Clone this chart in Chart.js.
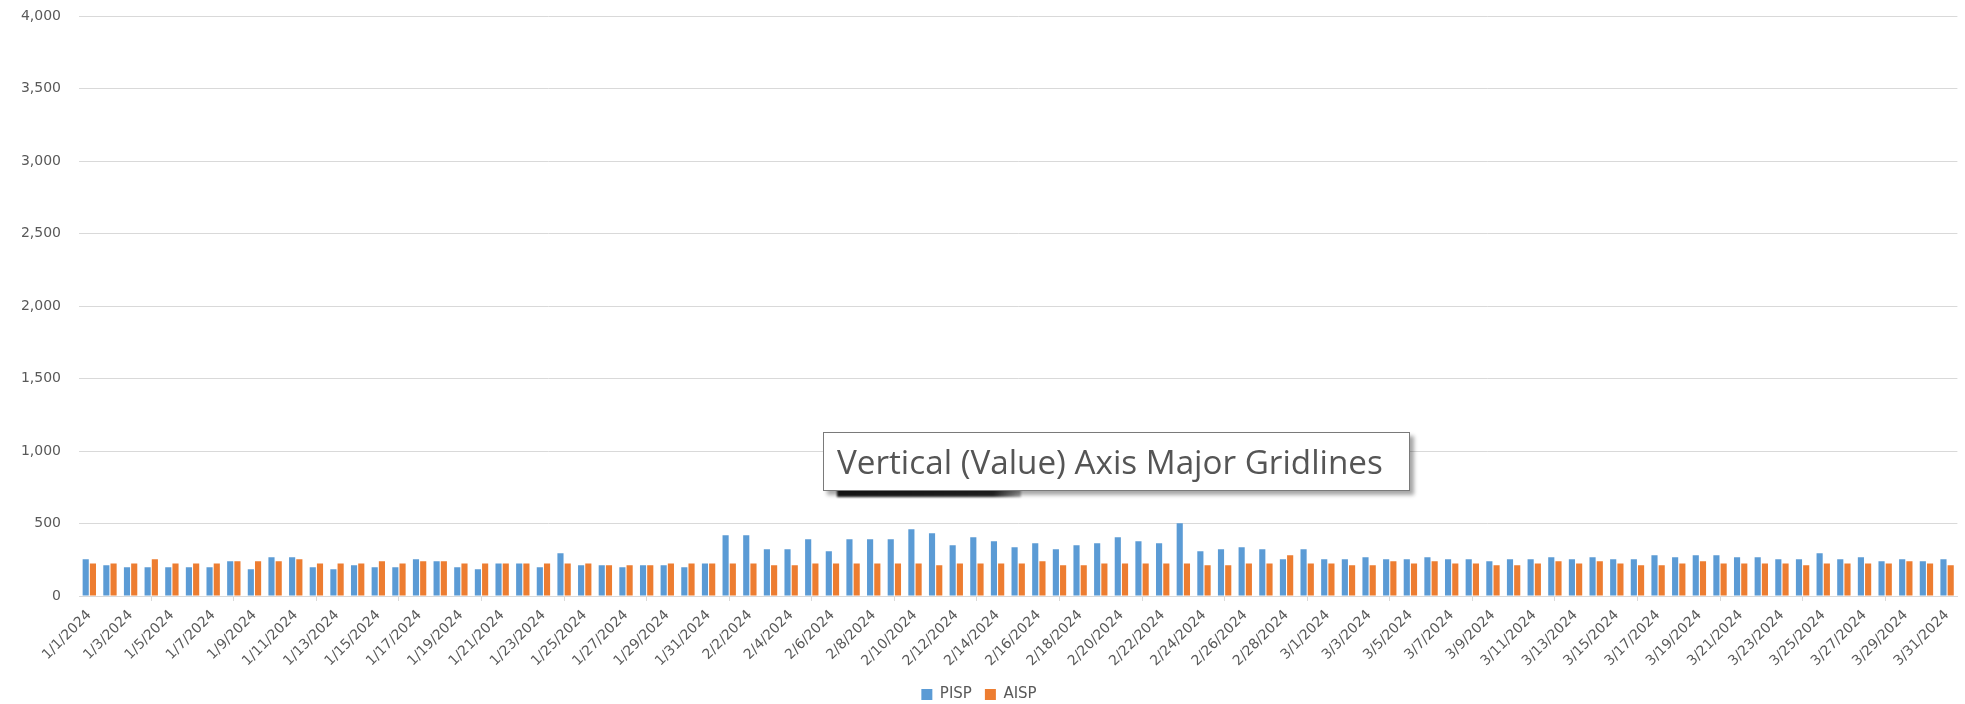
<html>
    <head>
        <title>PISP / AISP daily</title>
        <script src="https://cdn.jsdelivr.net/npm/chart.js/dist/chart.umd.min.js"></script>
        <style>
            body { margin: 0; background: #fff; }
            #wrap { position: relative; width: 1965px; height: 704px; }
            #tip {
                position: absolute; left: 823px; top: 432px; width: 572px; height: 57px;
                background: #fff; border: 1px solid #7a7a7a;
                box-shadow: 4px 4px 4px rgba(0, 0, 0, 0.35);
                font-family: "Open Sans"; color: #555; line-height: 57px;
                white-space: nowrap; padding-left: 13px; box-sizing: content-box; z-index: 2;
            }
            #tipShade {
                position: absolute; left: 837px; top: 489px; width: 184px; height: 8px;
                background: linear-gradient(to right, #1c1c1c 0%, #2a2a2a 85%, rgba(60,60,60,0.4) 100%);
                filter: blur(1px); z-index: 1;
            }
        </style>
    </head>
    <body>
        <div id="wrap">
            <canvas id="myChart" width="1965" height="704"></canvas>
            <div id="tipShade"></div>
            <div id="tip">Vertical (Value) Axis Major Gridlines</div>
        </div>
        <script>
            var days = [
                "1/1/2024","1/2/2024","1/3/2024","1/4/2024","1/5/2024","1/6/2024","1/7/2024","1/8/2024","1/9/2024","1/10/2024",
                "1/11/2024","1/12/2024","1/13/2024","1/14/2024","1/15/2024","1/16/2024","1/17/2024","1/18/2024","1/19/2024","1/20/2024",
                "1/21/2024","1/22/2024","1/23/2024","1/24/2024","1/25/2024","1/26/2024","1/27/2024","1/28/2024","1/29/2024","1/30/2024","1/31/2024",
                "2/1/2024","2/2/2024","2/3/2024","2/4/2024","2/5/2024","2/6/2024","2/7/2024","2/8/2024","2/9/2024","2/10/2024",
                "2/11/2024","2/12/2024","2/13/2024","2/14/2024","2/15/2024","2/16/2024","2/17/2024","2/18/2024","2/19/2024","2/20/2024",
                "2/21/2024","2/22/2024","2/23/2024","2/24/2024","2/25/2024","2/26/2024","2/27/2024","2/28/2024","2/29/2024",
                "3/1/2024","3/2/2024","3/3/2024","3/4/2024","3/5/2024","3/6/2024","3/7/2024","3/8/2024","3/9/2024","3/10/2024",
                "3/11/2024","3/12/2024","3/13/2024","3/14/2024","3/15/2024","3/16/2024","3/17/2024","3/18/2024","3/19/2024","3/20/2024",
                "3/21/2024","3/22/2024","3/23/2024","3/24/2024","3/25/2024","3/26/2024","3/27/2024","3/28/2024","3/29/2024","3/30/2024","3/31/2024"
            ];
            var pisp = [
                253,212,198,198,198,198,198,239,184,267,267,198,184,212,198,
                198,253,239,198,184,225,225,198,294,212,212,198,212,212,198,225,
                419,419,322,322,391,308,391,391,391,460,432,350,405,377,336,
                363,322,350,363,405,377,363,501,308,322,336,322,253,322,
                253,253,267,253,253,267,253,253,239,253,253,267,253,267,253,253,281,
                267,281,281,267,267,253,253,294,253,267,239,253,239,253
            ];
            var aisp = [
                225,225,225,253,225,225,225,239,239,239,253,225,225,225,239,
                225,239,239,225,225,225,225,225,225,225,212,212,212,225,225,225,
                225,225,212,212,225,225,225,225,225,225,212,225,225,225,225,
                239,212,212,225,225,225,225,225,212,212,225,225,281,225,
                225,212,212,239,225,239,225,225,212,212,225,239,225,239,225,212,212,
                225,239,225,225,225,225,212,225,225,225,225,239,225,212
            ];
            var yTicks = [0, 500, 1000, 1500, 2000, 2500, 3000, 3500, 4000];

            // fit the tooltip text to the width seen in the picture
            (function () {
                var tip = document.getElementById('tip');
                var c = document.createElement('canvas').getContext('2d');
                c.font = '38px "Open Sans"';
                var w = c.measureText(tip.textContent).width;
                tip.style.fontSize = (38 * 546 / w).toFixed(2) + 'px';
            })();

            Chart.defaults.font.family = '"DejaVu Sans"';
            const ctx = document.getElementById('myChart').getContext('2d');
            const myChart = new Chart(ctx, {
                type: 'bar',
                data: {
                    labels: days,
                    datasets: [
                        { label: 'PISP', data: pisp, backgroundColor: '#5B9BD5', barPercentage: 0.85, categoryPercentage: 0.7 },
                        { label: 'AISP', data: aisp, backgroundColor: '#ED7D31', barPercentage: 0.85, categoryPercentage: 0.7 },
                    ],
                },
                options: {
                    responsive: false,
                    animation: false,
                    layout: { padding: { top: 16, right: 7, left: 0, bottom: -8 } },
                    plugins: {
                        tooltip: { enabled: false },
                        legend: {
                            position: 'bottom',
                            labels: { boxWidth: 11, boxHeight: 11, padding: 13, color: '#595959', font: { size: 15 } },
                        },
                    },
                    scales: {
                        x: {
                            grid: {
                                offset: true,
                                drawOnChartArea: false,
                                tickLength: 5,
                                tickColor: c => (c.index % 2 === 0 ? '#D9D9D9' : 'rgba(0,0,0,0)'),
                            },
                            border: { color: '#D9D9D9' },
                            ticks: {
                                autoSkip: false,
                                minRotation: 45,
                                maxRotation: 45,
                                padding: 6,
                                color: '#595959',
                                font: { size: 14 },
                                callback: function (v, i) { return i % 2 === 0 ? this.getLabelForValue(v) : null; },
                            },
                            afterFit: s => { s.height = 78; },
                        },
                        y: {
                            min: 0,
                            max: 4000,
                            afterBuildTicks: s => { s.ticks = yTicks.map(v => ({ value: v })); },
                            // invisible tick marks give the gap between labels and plot
                            grid: { color: '#D9D9D9', drawTicks: true, tickLength: 18, tickColor: 'rgba(0,0,0,0)' },
                            border: { display: false },
                            ticks: { color: '#595959', font: { size: 14 }, padding: 0 },
                            afterFit: s => { s.width = 79; },
                        },
                    },
                },
            });
        </script>
    </body>
</html>
